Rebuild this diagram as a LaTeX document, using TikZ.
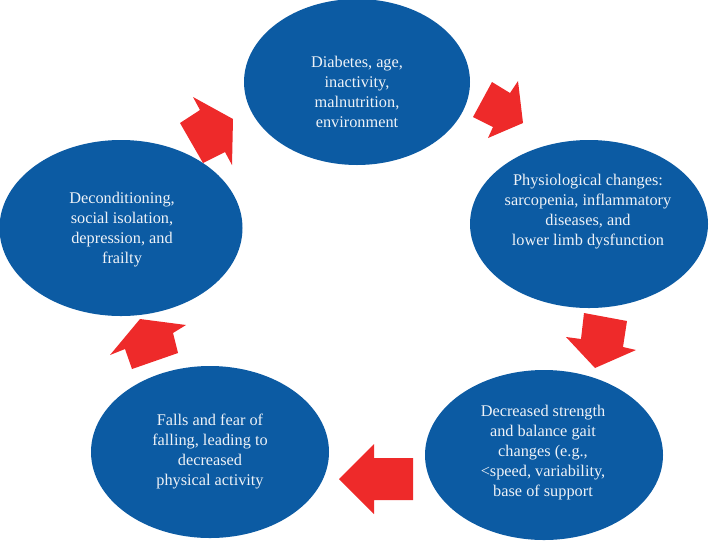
\documentclass[tikz,border=0pt]{standalone}
\usepackage{fontspec}
\setmainfont{Liberation Serif}
\usetikzlibrary{shapes.geometric}
\definecolor{cblue}{HTML}{0C5BA3}
\definecolor{cred}{HTML}{EE2A2A}
\definecolor{ctext}{HTML}{EEF2F7}
\tikzset{
  bubble/.style={ellipse, fill=cblue, draw=none, inner sep=0pt, outer sep=0pt},
  btext/.style={text=ctext, align=center, font=\fontsize{16.3}{20}\selectfont, inner sep=0pt},
  blockarrow/.style={fill=cred, draw=none}
}
\begin{document}
\begin{tikzpicture}[x=1pt,y=-1pt]
\useasboundingbox (0,0) rectangle (709,542);
% ellipses
\node[bubble, minimum width=226pt, minimum height=166pt] (top) at (357,82) {};
\node[bubble, minimum width=238pt, minimum height=168pt] (right) at (589,224) {};
\node[bubble, minimum width=238pt, minimum height=170pt] (botright) at (544,455) {};
\node[bubble, minimum width=238pt, minimum height=172pt] (botleft) at (210,452) {};
\node[bubble, minimum width=243pt, minimum height=176pt] (left) at (121,228) {};
% texts
\node[btext] (ttop) at (357,92) {Diabetes, age,\\inactivity,\\malnutrition,\\environment};
\node[btext] (tright) at (588,212) {Physiological changes:\\sarcopenia, inflammatory\\diseases, and\\lower limb dysfunction};
\node[btext] (tbotright) at (543,453) {Decreased strength\\and balance gait\\changes (e.g.,\\<speed, variability,\\base of support};
\node[btext] (tbotleft) at (210,452) {Falls and fear of\\falling, leading to\\decreased\\physical activity};
\node[btext] (tleft) at (122,230) {Deconditioning,\\social isolation,\\depression, and\\frailty};
% block arrows
\fill[blockarrow] (233,119) -- (193,97) -- (200,110) -- (180,123) -- (203,163) -- (225,152) -- (232,165) -- cycle;
\fill[blockarrow] (523,123) -- (518,81) -- (510,93) -- (492,82) -- (473,117) -- (493,127) -- (488,138) -- cycle;
\fill[blockarrow] (595,368) -- (636,350) -- (623,347) -- (627,321) -- (584,313) -- (581,339) -- (566,337) -- cycle;
\fill[blockarrow] (339,479) -- (374,444) -- (374,458) -- (413,458) -- (413,500) -- (374,500) -- (374,514) -- cycle;
\fill[blockarrow] (140,319) -- (110,355) -- (125,349) -- (132,369) -- (178,353) -- (173,333) -- (186,325) -- cycle;
\end{tikzpicture}
\end{document}
